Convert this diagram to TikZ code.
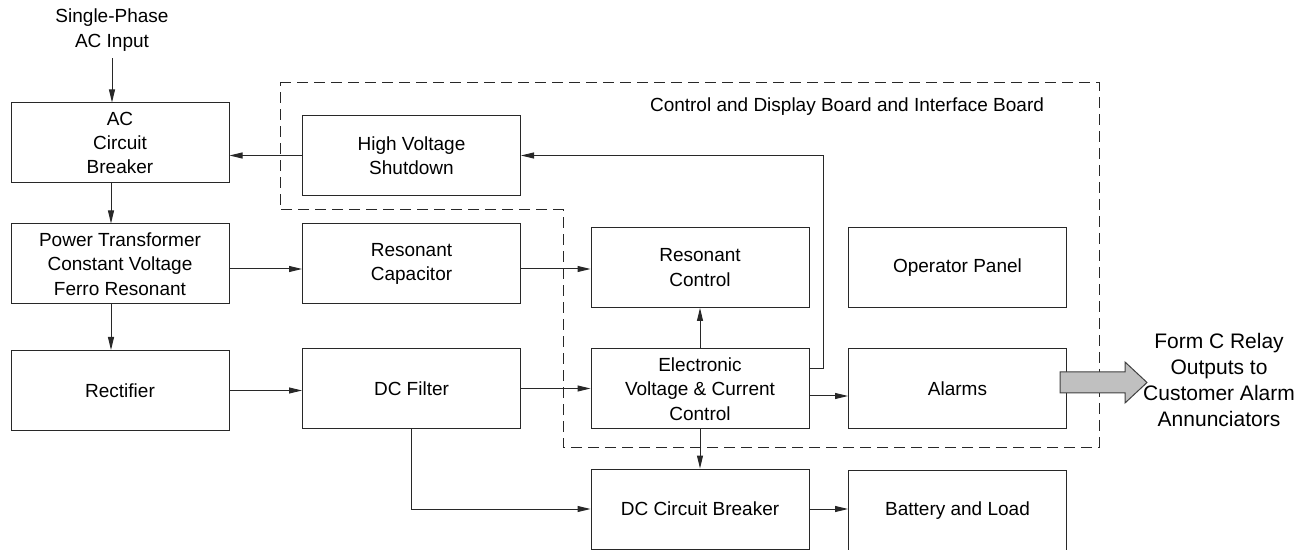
\documentclass[tikz,border=0pt]{standalone}
\usepackage{fontspec}
\setmainfont{Liberation Sans}
\usetikzlibrary{arrows.meta}
\definecolor{arrowgray}{RGB}{192,192,192}
\definecolor{linegray}{RGB}{40,40,40}
\tikzset{
    block/.style={draw, minimum width=109pt, minimum height=40pt, align=center, inner sep=1pt},
    board/.style={draw, dash pattern=on 5.5pt off 3pt},
}
\begin{document}
\begin{tikzpicture}[x=0.5pt, y=-0.5pt, line width=0.5pt, draw=linegray, font=\fontsize{9.5}{12.2}\selectfont]
        \useasboundingbox (0,0) rectangle (1306,550);

        \draw[board] (280,83) -- (1099,83) -- (1099,447) -- (563,447) -- (563,210) -- (280,210) -- cycle;
        \node (boardlabel) at (847,107) {Control and Display Board and Interface Board};

        \node[align=center] (acin) at (112,30) {Single-Phase \\ AC Input};
        \node[block] (ac) at (120,143) {AC \\ Circuit \\ Breaker};
        \node[block] (hvs) at (411.5,155.5) {High Voltage \\ Shutdown};
        \node[block] (pt) at (120,264) {Power Transformer \\ Constant Voltage \\ Ferro Resonant};
        \node[block] (rcap) at (411.5,264) {Resonant \\ Capacitor};
        \node[block] (rctl) at (700,267.5) {Resonant \\ Control};
        \node[block] (oppanel) at (957.5,267.5) {Operator Panel};
        \node[block] (rect) at (120,390.5) {Rectifier};
        \node[block] (dcf) at (411.5,388.5) {DC Filter};
        \node[block] (evc) at (700,389) {Electronic \\ Voltage \& Current \\ Control};
        \node[block] (alarms) at (957.5,389) {Alarms};
        \node[block] (dccb) at (700,509) {DC Circuit Breaker};
        \node[block] (batt) at (957.5,510.5) {Battery and Load};
        \coordinate (fbcorner) at (823,155.5);

        \begin{scope}[-{Triangle[length=6.5pt, width=3pt]}]
            \draw (acin.south) -- (acin.south |- ac.north);
            \draw ([xshift=-4.5pt]ac.south) -- ([xshift=-4.5pt]pt.north);
            \draw ([xshift=-4.5pt]pt.south) -- ([xshift=-4.5pt]rect.north);
            \draw (hvs.west) -- (hvs.west -| ac.east);
            \draw ([yshift=-2.5pt]pt.east) -- ([yshift=-2.5pt]rcap.west);
            \draw ([yshift=-2.5pt]rcap.east) -- ([yshift=-2.5pt]rcap.east -| rctl.west);
            \draw (rect.east) -- (rect.east -| dcf.west);
            \draw (dcf.east) -- (dcf.east -| evc.west);
            \draw (evc.north) -- (rctl.south);
            \draw ([yshift=-3.5pt]evc.east) -- ([yshift=-3.5pt]evc.east -| alarms.west);
            \draw (evc.south) -- (dccb.north);
            \draw (dcf.south) |- (dccb.west);
            \draw (dccb.east) -- (dccb.east -| batt.west);
            \draw ([yshift=10pt]evc.east) -| (fbcorner) -- (hvs.east);
        \end{scope}

        \draw[fill=arrowgray, draw=black!75] (1060,372) -- (1125,372) -- (1125,362) -- (1147,382.5) -- (1125,403) -- (1125,393) -- (1060,393) -- cycle;
        \node[align=center, font=\fontsize{10.5}{13}\selectfont] (relay) at (1219,380) {Form C Relay \\ Outputs to \\ Customer Alarm \\ Annunciators};
    \end{tikzpicture}
\end{document}
